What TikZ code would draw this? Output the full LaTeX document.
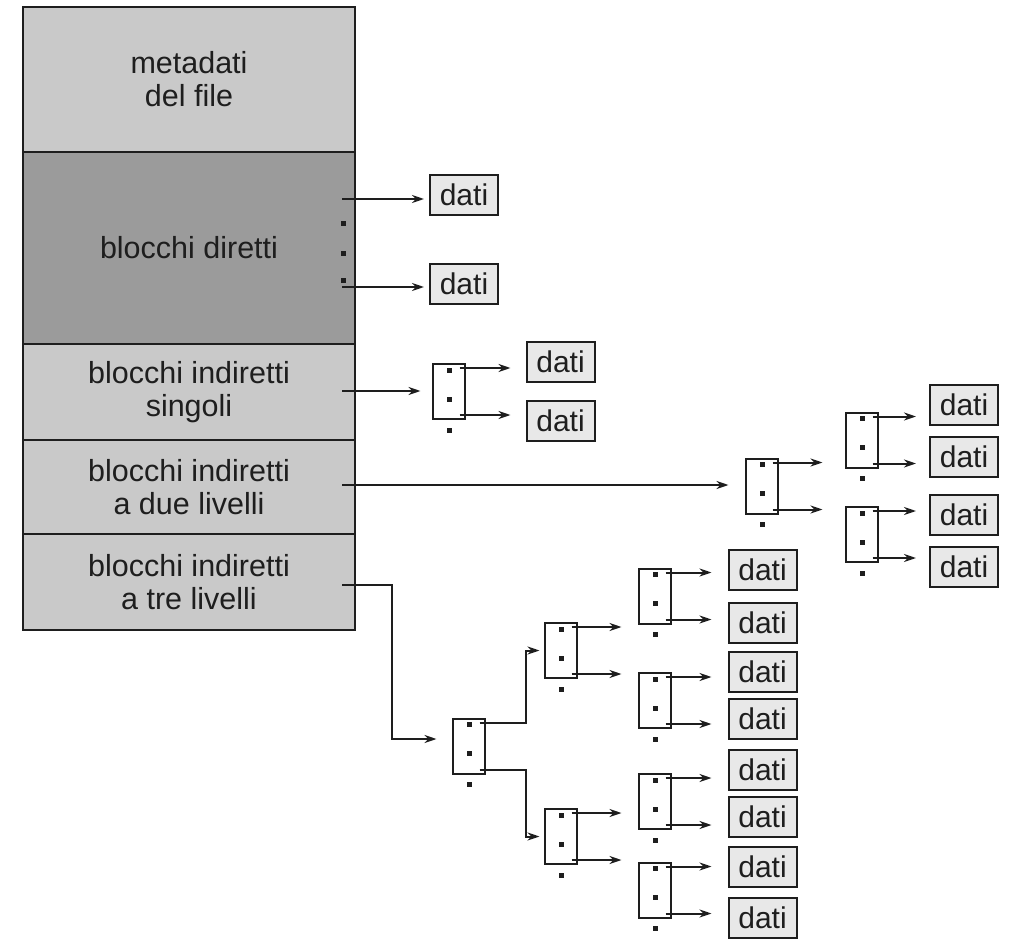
\documentclass[tikz,border=0pt]{standalone}
\usepackage{fontspec}
\setmainfont{Liberation Sans}
\usetikzlibrary{arrows.meta,calc}
\definecolor{lightrow}{RGB}{201,201,201}
\definecolor{darkrow}{RGB}{155,155,155}
\definecolor{datifill}{RGB}{232,232,232}
\definecolor{ink}{RGB}{30,30,30}
\tikzset{
 row/.style={draw=ink, line width=2pt, minimum width=332pt, inner sep=0pt, align=center,
   font=\fontsize{30.5}{33}\selectfont, text=ink, anchor=north west},
 datibox/.style={draw=ink, fill=datifill, line width=2pt, minimum width=68pt, minimum height=40pt,
   inner sep=0pt, font=\fontsize{30}{33}\selectfont, text=ink},
 idx/.style={draw=ink, line width=2pt, minimum width=32pt, minimum height=55pt, inner sep=0pt},
 arr/.style={draw=ink, line width=2pt, -{Stealth[length=12pt,width=8pt]}},
 dotm/.style={fill=ink, draw=none, rectangle, minimum size=5pt, inner sep=0pt}
}
\newcommand\idxblk[3]{%
 \node[idx] (#1) at (#2,#3) {};
 \node[dotm] (#1-p1) at ($(#1.north)+(1,7)$) {};
 \node[dotm] (#1-p2) at ($(#1.north)+(1,36)$) {};
 \node[dotm] (#1-p3) at ($(#1.south)+(1,10)$) {};
 \coordinate (#1-o1) at ($(#1.north east)+(-6,5)$);
 \coordinate (#1-o2) at ($(#1.south east)+(-6,-5)$);
}
\begin{document}
\begin{tikzpicture}[x=1pt,y=-1pt]
\useasboundingbox (0,0) rectangle (1010,939);

% main column
\node[row, fill=lightrow, minimum height=145pt] (meta) at (22,6) {metadati\\del file};
\node[row, fill=darkrow, minimum height=192pt] (dir) at (22,151) {blocchi diretti};
\node[row, fill=lightrow, minimum height=96pt] (sing) at (22,343) {blocchi indiretti\\singoli};
\node[row, fill=lightrow, minimum height=94pt] (due) at (22,439) {blocchi indiretti\\a due livelli};
\node[row, fill=lightrow, minimum height=96pt] (tre) at (22,533) {blocchi indiretti\\a tre livelli};

% dots in direct blocks
\node[dotm] (dp1) at (343,223) {};
\node[dotm] (dp2) at (343,253) {};
\node[dotm] (dp3) at (343,280) {};

% dati boxes
\node[datibox] (dd1) at (464,195) {dati};
\node[datibox] (dd2) at (464,284) {dati};
\node[datibox] (ds1) at (560.5,361.5) {dati};
\node[datibox] (ds2) at (560.5,420.5) {dati};
\node[datibox] (dD1) at (964,405) {dati};
\node[datibox] (dD2) at (964,457) {dati};
\node[datibox] (dD3) at (964,514.5) {dati};
\node[datibox] (dD4) at (964,567) {dati};
\node[datibox] (dt1) at (762.5,570) {dati};
\node[datibox] (dt2) at (762.5,622.5) {dati};
\node[datibox] (dt3) at (762.5,672) {dati};
\node[datibox] (dt4) at (762.5,719) {dati};
\node[datibox] (dt5) at (762.5,769.5) {dati};
\node[datibox] (dt6) at (762.5,817) {dati};
\node[datibox] (dt7) at (762.5,867) {dati};
\node[datibox] (dt8) at (762.5,917.5) {dati};

% index blocks
\idxblk{S}{448.5}{391.5}
\idxblk{D1}{761.5}{486}
\idxblk{D2a}{861.5}{440}
\idxblk{D2b}{861.5}{534.5}
\idxblk{T1}{468.5}{746}
\idxblk{T2a}{560.5}{650.5}
\idxblk{T2b}{560.5}{836.5}
\idxblk{T3a}{654.5}{596}
\idxblk{T3b}{654.5}{700.5}
\idxblk{T3c}{654.5}{801.5}
\idxblk{T3d}{654.5}{890}

% start points on the column
\coordinate (dirA) at (342,199);
\coordinate (dirB) at (342,287);
\coordinate (singA) at (342,391);
\coordinate (dueA) at (342,485);
\coordinate (treA) at (342,585);
\coordinate (treK) at (392,585);

% direct
\draw[arr, shorten >=5pt] (dirA) -- (dirA -| dd1.west);
\draw[arr, shorten >=5pt] (dirB) -- (dirB -| dd2.west);
% single indirect
\draw[arr, shorten >=11pt] (singA) -- (singA -| S.west);
\draw[arr, shorten >=15pt] (S-o1) -- (S-o1 -| ds1.west);
\draw[arr, shorten >=15pt] (S-o2) -- (S-o2 -| ds2.west);
% double indirect
\draw[arr, shorten >=16pt] (dueA) -- (dueA -| D1.west);
\draw[arr] (D1-o1) -- ++(50,0);
\draw[arr] (D1-o2) -- ++(50,0);
\draw[arr, shorten >=13pt] (D2a-o1) -- (D2a-o1 -| dD1.west);
\draw[arr, shorten >=13pt] (D2a-o2) -- (D2a-o2 -| dD2.west);
\draw[arr, shorten >=13pt] (D2b-o1) -- (D2b-o1 -| dD3.west);
\draw[arr, shorten >=13pt] (D2b-o2) -- (D2b-o2 -| dD4.west);
% triple indirect
\draw[arr, shorten >=15pt] (treA) -- (treK) |- ($(T1.west)+(0,-7)$);
\draw[arr, shorten >=4pt] (T1-o1) -- ++(46,0) |- (T2a.west);
\draw[arr, shorten >=4pt] (T1-o2) -- ++(46,0) |- (T2b.west);
\draw[arr] (T2a-o1) -- ++(50,0);
\draw[arr] (T2a-o2) -- ++(50,0);
\draw[arr] (T2b-o1) -- ++(50,0);
\draw[arr] (T2b-o2) -- ++(50,0);
\draw[arr, shorten >=16pt] (T3a-o1) -- (T3a-o1 -| dt1.west);
\draw[arr, shorten >=16pt] (T3a-o2) -- (T3a-o2 -| dt2.west);
\draw[arr, shorten >=16pt] (T3b-o1) -- (T3b-o1 -| dt3.west);
\draw[arr, shorten >=16pt] (T3b-o2) -- (T3b-o2 -| dt4.west);
\draw[arr, shorten >=16pt] (T3c-o1) -- (T3c-o1 -| dt5.west);
\draw[arr, shorten >=16pt] (T3c-o2) -- (T3c-o2 -| dt6.west);
\draw[arr, shorten >=16pt] (T3d-o1) -- (T3d-o1 -| dt7.west);
\draw[arr, shorten >=16pt] (T3d-o2) -- (T3d-o2 -| dt8.west);
\end{tikzpicture}
\end{document}
